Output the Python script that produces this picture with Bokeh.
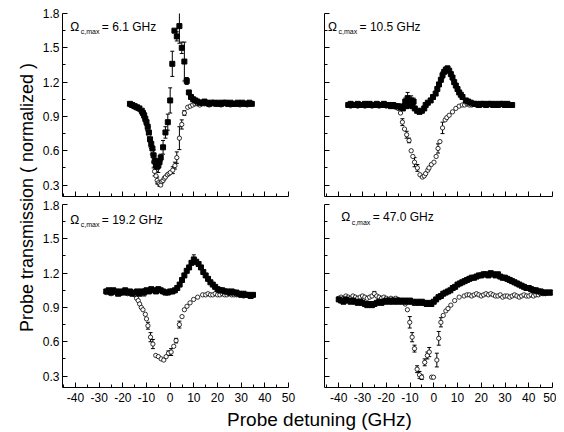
from bokeh.plotting import figure
from bokeh.models import Range1d, FixedTicker, Label, Whisker, TeeHead, ColumnDataSource
from bokeh.layouts import row, column
from bokeh.embed import file_html
from bokeh.resources import INLINE

# ---------------- data ----------------
PANEL_VALUES = ["6.1", "10.5", "19.2", "47.0"]
X_TICKS = [-40, -30, -20, -10, 0, 10, 20, 30, 40, 50]
X_MINOR = [-45, -35, -25, -15, -5, 5, 15, 25, 35, 45]
Y_TICKS = [0.3, 0.6, 0.9, 1.2, 1.5, 1.8]
Y_MINOR = [0.45, 0.75, 1.05, 1.35, 1.65]

# Panel A (6.1 GHz) filled
A_F_X = [-17, -16, -15, -14, -13, -12,
         -11.5, -11, -10.5, -10, -9.5, -9, -8.5, -8, -7.5, -7, -6.5, -6, -5.5, -5, -4.5, -4,
         -3, -2, -1, 0,
         0.9, 1.8, 2.8, 3.9, 4.9, 6.0, 7.0, 7.9, 8.8, 9.7, 10.6,
         11.5, 12.5, 13.5, 14.5, 15.5, 16.5, 17.5, 18.5, 19.5, 20.5, 21.5, 22.5,
         23.5, 24.5, 25.5, 26.5, 27.5, 28.5, 29.5, 30.5, 31.5, 32.5, 33.5, 34.5]
A_F_Y = [1.01, 1.00, 0.99, 0.98, 0.97, 0.95,
         0.93, 0.91, 0.88, 0.85, 0.81, 0.76, 0.70, 0.66, 0.62, 0.56, 0.51, 0.47, 0.46, 0.47, 0.50, 0.54,
         0.63, 0.76, 0.85, 1.04,
         1.36, 1.65, 1.60, 1.69, 1.50, 1.38, 1.21, 1.11, 1.07, 1.05, 1.04,
         1.03, 1.02, 1.02, 1.03, 1.02, 1.01, 1.02, 1.02, 1.01, 1.02, 1.01, 1.02,
         1.02, 1.01, 1.02, 1.01, 1.01, 1.02, 1.01, 1.02, 1.01, 1.01, 1.02, 1.01]
A_F_EX = [-9, -7, -6, -5, -4, -3, -2, -1, 0, 0.9, 2.8, 3.9, 4.9, 6.0, 7.0]
A_F_EV = [0.05, 0.05, 0.05, 0.06, 0.03, 0.06, 0.05, 0.07, 0.11, 0.11, 0.04, 0.15, 0.05, 0.17, 0.03]

# Panel A open
A_O_X = [-17, -16, -15, -14, -13, -12,
         -11, -10.5, -10, -9.5, -9, -8.5, -8, -7.5, -7,
         -6.6, -6, -5.5, -5, -4.5, -4, -3.5, -3, -2.5, -2,
         -1.2, -0.5, 0.1, 1.1, 2.0, 2.8, 3.9, 4.9, 6.0, 7.4, 8.5, 9.5,
         10.5, 11.5, 12.5, 13.5, 14.5, 15.5, 16.5, 17.5, 18.5, 19.5, 20.5, 21.5, 22.5,
         23.5, 24.5, 25.5, 26.5, 27.5, 28.5, 29.5, 30.5, 31.5, 32.5, 33.5, 34.5]
A_O_Y = [1.00, 0.99, 0.98, 0.97, 0.96, 0.93,
         0.89, 0.86, 0.83, 0.78, 0.74, 0.69, 0.63, 0.57, 0.50,
         0.42, 0.38, 0.34, 0.32, 0.31, 0.30, 0.33, 0.34, 0.36, 0.37,
         0.39, 0.40, 0.41, 0.43, 0.47, 0.54, 0.71, 0.83, 0.93, 0.98, 0.99, 1.00,
         1.01, 1.01, 1.00, 1.01, 1.01, 1.01, 1.00, 1.01, 1.01, 1.01, 1.01, 1.00, 1.01,
         1.01, 1.01, 1.00, 1.01, 1.01, 1.01, 1.00, 1.01, 1.01, 1.00, 1.01, 1.01]
A_O_EX = [-7, -6.6, -5.5, -4.5, 1.1, 2.0, 2.8, 3.9, 4.9, 6.0]
A_O_EV = [0.05, 0.04, 0.03, 0.02, 0.03, 0.03, 0.05, 0.10, 0.04, 0.02]

# Panel B (10.5 GHz) filled
B_F_X = [-36, -35, -34, -33, -32, -31, -30, -29, -28, -27, -26, -25, -24, -23, -22, -21, -20, -19, -18, -17, -16,
         -15, -14, -13, -12.5, -12, -11.5, -11, -10.5, -10, -9.5, -9, -8.5, -8,
         -7, -6, -5, -4, -3.4, -2.5, -1.3, -0.3,
         0.8, 1.5, 2.2, 3.0, 3.7, 4.4, 5.1, 5.8, 6.5, 7.2, 7.9, 8.6, 9.3, 10.0, 10.7, 11.4, 12.1,
         13.5, 14.5, 15.6,
         17, 18, 19, 20, 21, 22, 23, 24, 25, 26, 27, 28, 29, 30, 31, 32, 33]
B_F_Y = [1.00, 1.01, 1.00, 1.00, 1.01, 1.00, 1.00, 1.01, 1.00, 1.01, 1.00, 1.00, 1.01, 1.00, 1.00, 1.01, 1.00, 1.00, 0.99, 1.00, 0.99,
         0.99, 0.98, 0.97, 0.99, 1.03, 0.99, 1.06, 1.02, 1.00, 1.04, 0.99, 1.03, 0.97,
         0.95, 0.94, 0.95, 0.97, 1.00, 1.02, 1.04, 1.07,
         1.10, 1.14, 1.18, 1.22, 1.26, 1.29, 1.31, 1.32, 1.30, 1.27, 1.24, 1.20, 1.17, 1.14, 1.11, 1.09, 1.07,
         1.04, 1.03, 1.02,
         1.01, 1.01, 1.00, 1.01, 1.01, 1.00, 1.01, 1.01, 1.00, 1.01, 1.00, 1.01, 1.01, 1.00, 1.01, 1.00, 1.00]
B_F_EX = [-12, -11, -9.5, -8.5, 3.7, 5.8]
B_F_EV = [0.03, 0.05, 0.04, 0.03, 0.03, 0.02]

# Panel B open
B_O_X = [-36, -35, -34, -33, -32, -31, -30, -29, -28, -27, -26, -25, -24, -23, -22, -21, -20, -19, -18, -17, -16,
         -15, -14, -13.2, -12.3, -11.4, -10.4, -9.5, -8.8, -8.1, -6.9, -5.8, -4.8, -4.0, -3.4, -2.5, -2.0, -1.0,
         0.1, 1.0, 1.8, 2.6, 3.7, 4.8, 5.5, 6.5, 7.9, 9.3, 10.7, 12.0,
         13, 14, 15, 16, 17, 18, 19, 20, 21, 22, 23, 24, 25, 26, 27, 28, 29, 30, 31, 32, 33]
B_O_Y = [1.00, 0.99, 1.00, 1.00, 0.99, 1.00, 1.00, 0.99, 1.00, 1.00, 0.99, 1.00, 1.00, 0.99, 1.00, 1.00, 0.99, 1.00, 0.99, 0.99, 0.98,
         0.97, 0.93, 0.85, 0.79, 0.74, 0.69, 0.60, 0.55, 0.50, 0.45, 0.39, 0.37, 0.38, 0.40, 0.43, 0.45, 0.48,
         0.50, 0.55, 0.62, 0.68, 0.80, 0.87, 0.89, 0.91, 0.94, 0.97, 0.99, 1.00,
         1.00, 1.01, 1.00, 1.00, 1.01, 1.00, 1.00, 1.00, 1.01, 1.00, 1.00, 1.01, 1.00, 1.00, 1.00, 1.01, 1.00, 1.00, 1.01, 1.00, 1.00]
B_O_EX = [-13.2, -11.4, -10.4, -8.1, -6.9, 1.8, 3.7]
B_O_EV = [0.03, 0.03, 0.02, 0.04, 0.03, 0.04, 0.05]

# Panel C (19.2 GHz) filled
C_F_X = [-27, -26, -25, -24, -23, -22, -21, -20, -19, -18, -17, -16, -15, -14, -13, -12, -11, -10,
         -9, -8, -7, -6, -5, -4, -3, -2, -1, 0,
         1, 2, 3, 4, 5, 6, 7, 8, 9, 10, 11, 12, 13, 14, 15, 16, 17, 18, 19, 20,
         21, 22, 23, 24, 25, 26, 27, 28, 29, 30, 31, 32, 33, 34, 35]
C_F_Y = [1.04, 1.05, 1.03, 1.05, 1.04, 1.02, 1.04, 1.03, 1.05, 1.03, 1.04, 1.02, 1.03, 1.04, 1.02, 1.04, 1.03, 1.05,
         1.04, 1.06, 1.05, 1.04, 1.06, 1.05, 1.04, 1.03, 1.03, 1.04,
         1.04, 1.05, 1.07, 1.10, 1.14, 1.18, 1.22, 1.25, 1.29, 1.32, 1.30, 1.28, 1.25, 1.21, 1.18, 1.15, 1.12, 1.10, 1.08, 1.06,
         1.05, 1.05, 1.04, 1.04, 1.03, 1.04, 1.03, 1.03, 1.02, 1.01, 1.02, 1.01, 1.01, 1.00, 1.01]
C_F_EX = [-11, 10]
C_F_EV = [0.03, 0.04]

# Panel C open
C_O_X = [-27, -26, -25, -24, -23, -22, -21, -20, -19, -18, -17, -16, -15,
         -14.2, -13.5, -12.9, -12.2, -11.5, -10.5, -10, -9.4, -8.3, -7.3, -6.1, -5.0, -3.8, -2.7,
         -1.7, -0.7, 0.4, 1.5, 2.5, 3.9, 5.0, 6.0, 7.1, 8.4, 9.9, 11.6, 13.7,
         15, 16, 17, 18, 19, 20, 21, 22, 23, 24, 25, 26, 27, 28, 29, 30, 31, 32, 33, 34, 35]
C_O_Y = [1.03, 1.04, 1.02, 1.03, 1.04, 1.03, 1.02, 1.03, 1.04, 1.02, 1.03, 1.02, 1.01,
         0.98, 0.96, 0.93, 0.90, 0.88, 0.84, 0.80, 0.74, 0.64, 0.58, 0.48, 0.47, 0.45, 0.44,
         0.47, 0.50, 0.51, 0.56, 0.61, 0.75, 0.82, 0.88, 0.91, 0.94, 0.97, 0.99, 1.01,
         1.01, 1.02, 1.01, 1.01, 1.02, 1.01, 1.01, 1.02, 1.01, 1.01, 1.02, 1.01, 1.01, 1.01, 1.02, 1.01, 1.00, 1.01, 1.01, 1.00, 1.01]
C_O_EX = [-9.4, -8.3, -7.3, -0.7, 0.4, 2.5, 3.9]
C_O_EV = [0.03, 0.04, 0.04, 0.02, 0.03, 0.02, 0.03]

# Panel D (47.0 GHz) filled
D_F_X = [-40, -39, -38, -37, -36, -35, -34, -33, -32, -31,
         -30, -29, -28, -27, -26, -25, -24, -23, -22, -21,
         -20, -19, -18, -17, -16, -15, -14, -13, -12, -11,
         -10, -9, -8, -7, -6, -5, -4, -3, -2, -1,
         0, 1, 2, 3, 4, 5, 6, 7, 8, 9,
         10, 11, 12, 13, 14, 15, 16, 17, 18, 19,
         20, 21, 22, 23, 24, 25, 26, 27, 28, 29,
         30, 31, 32, 33, 34, 35, 36, 37, 38, 39,
         40, 41, 42, 43, 44, 45, 46, 47, 48, 49, 50]
D_F_Y = [0.97, 0.96, 0.95, 0.97, 0.96, 0.95, 0.96, 0.95, 0.94, 0.95,
         0.94, 0.93, 0.92, 0.93, 0.92, 0.93, 0.94, 0.95, 0.94, 0.95,
         0.96, 0.95, 0.96, 0.95, 0.96, 0.95, 0.96, 0.95, 0.96, 0.95,
         0.96, 0.95, 0.94, 0.95, 0.94, 0.95, 0.94, 0.93, 0.94, 0.93,
         0.95, 0.97, 0.99, 1.00, 1.02, 1.03, 1.04, 1.05, 1.07, 1.08,
         1.10, 1.11, 1.12, 1.13, 1.14, 1.15, 1.16, 1.16, 1.17, 1.18,
         1.18, 1.19, 1.19, 1.18, 1.20, 1.19, 1.18, 1.19, 1.17, 1.16,
         1.16, 1.15, 1.14, 1.13, 1.12, 1.11, 1.10, 1.09, 1.08, 1.07,
         1.07, 1.06, 1.05, 1.05, 1.04, 1.04, 1.03, 1.03, 1.03, 1.03, 1.03]
D_F_EX = []
D_F_EV = []

# Panel D open
D_O_X = [-40, -39, -38, -37, -36, -35, -34, -33, -32, -31, -30, -29, -28, -27, -26, -25, -24, -23, -22, -21,
         -20, -19, -18, -17, -16, -15, -14, -13, -12,
         -11.1, -10.1, -9.1, -8.1, -7.0, -6.0, -5.1, -3.8, -2.7, -1.9, -0.9, -0.1,
         1.3, 2.1, 3.0, 4.0, 5.1, 6.0, 7.2, 8.8, 10.7, 12.8,
         14, 15, 16, 17, 18, 19, 20, 21, 22, 23, 24, 25, 26, 27, 28, 29, 30, 31, 32, 33,
         34, 35, 36, 37, 38, 39, 40, 41, 42, 43, 44, 45, 46, 47, 48, 49, 50]
D_O_Y = [0.98, 0.99, 0.98, 1.00, 0.99, 0.98, 1.00, 0.99, 0.98, 0.99, 1.00, 0.99, 0.98, 0.99, 1.00, 1.02, 1.00, 0.99, 0.98, 0.99,
         0.98, 0.97, 0.98, 0.97, 0.98, 0.97, 0.96, 0.96, 0.93,
         0.88, 0.77, 0.64, 0.54, 0.36, 0.31, 0.29, 0.42, 0.48, 0.51, 0.29, 0.29,
         0.44, 0.63, 0.77, 0.83, 0.87, 0.89, 0.92, 0.96, 0.99, 1.00,
         1.01, 1.01, 1.00, 1.01, 1.02, 1.01, 1.00, 1.01, 1.02, 1.01, 1.02, 1.01, 1.00, 1.00, 1.01, 0.99, 1.00, 1.00, 0.99, 1.00,
         1.01, 1.00, 0.99, 1.00, 1.01, 1.00, 1.00, 1.01, 1.00, 1.01, 1.01, 1.02, 1.02, 1.02, 1.03, 1.03, 1.03]
D_O_EX = [-25, -10.1, -9.1, -8.1, -7.0, -6.0, -5.1, -3.8, -2.7, -1.9, 1.3, 2.1, 3.0]
D_O_EV = [0.02, 0.05, 0.04, 0.03, 0.03, 0.03, 0.02, 0.03, 0.03, 0.04, 0.06, 0.06, 0.04]

# ---------------- styling ----------------
FONT = "Liberation Sans"
LEFT_XR = (-45.5, 50)
RIGHT_XR = (-46, 50)
YR = (0.2, 1.8)


def make_panel(xr, width, height, mbl, mbr, mbt, mbb, show_x, show_y):
    p = figure(width=width, height=height, x_range=Range1d(*xr), y_range=Range1d(*YR),
               output_backend="svg", toolbar_location=None,
               min_border_left=mbl, min_border_right=mbr, min_border_top=mbt, min_border_bottom=mbb)
    p.grid.visible = False
    p.outline_line_color = None
    p.xaxis.ticker = FixedTicker(ticks=X_TICKS, minor_ticks=X_MINOR)
    p.yaxis.ticker = FixedTicker(ticks=Y_TICKS, minor_ticks=Y_MINOR)
    for ax in (p.xaxis[0], p.yaxis[0]):
        ax.axis_line_color = "black"
        ax.axis_line_width = 1
        ax.major_tick_line_color = "black"
        ax.minor_tick_line_color = "black"
        ax.major_tick_in = 5
        ax.major_tick_out = 0
        ax.minor_tick_in = 3
        ax.minor_tick_out = 0
        ax.major_label_text_font = FONT
        ax.major_label_text_color = "black"
        ax.major_label_text_font_size = "12px"
    if show_x:
        p.xaxis.major_label_overrides = {t: str(t) for t in X_TICKS}
        p.xaxis.major_label_standoff = 5
    else:
        p.xaxis.major_label_overrides = {t: "" for t in X_TICKS}
        p.xaxis.major_label_text_font_size = "0px"
        p.xaxis.major_label_standoff = 0
    if show_y:
        p.yaxis.major_label_standoff = 3
    else:
        p.yaxis.major_label_overrides = {t: "" for t in Y_TICKS}
        p.yaxis.major_label_text_font_size = "0px"
        p.yaxis.major_label_standoff = 0
    return p


def add_series(p, xs, ys, ex, ev, filled):
    if ex:
        base, up, lo = [], [], []
        for xv, e in zip(ex, ev):
            yv = ys[xs.index(xv)]
            base.append(xv)
            up.append(yv + e)
            lo.append(yv - e)
        src = ColumnDataSource(data=dict(base=base, upper=up, lower=lo))
        w = Whisker(source=src, base="base", upper="upper", lower="lower",
                    line_color="black", line_width=1,
                    upper_head=TeeHead(size=4, line_color="black", line_width=1),
                    lower_head=TeeHead(size=4, line_color="black", line_width=1))
        p.add_layout(w)
    if filled:
        p.scatter(xs, ys, marker="square", size=5, fill_color="black", line_color="black")
    else:
        p.scatter(xs, ys, marker="circle", size=4.3, fill_color="white", line_color="black", line_width=0.8)


def add_title(p, x, y, val):
    p.add_layout(Label(x=x, y=y, text="\u03a9", text_font=FONT, text_font_size="12px",
                       text_color="black", text_baseline="middle"))
    p.add_layout(Label(x=x, y=y, x_offset=10.5, y_offset=-5, text="c,max", text_font=FONT,
                       text_font_size="7px", text_color="black", text_baseline="middle"))
    p.add_layout(Label(x=x, y=y, x_offset=31.5, text="= " + val + " GHz", text_font=FONT,
                       text_font_size="12px", text_color="black", text_baseline="middle"))


# frames at x 62-288 / 324-552, y 13-196 / 204-387
tl = make_panel(LEFT_XR, 268, 200, 24, 18, 13, 4, False, True)
tr = make_panel(RIGHT_XR, 250, 200, 18, 4, 13, 4, False, False)
bl = make_panel(LEFT_XR, 268, 207, 24, 18, 4, 20, True, True)
br = make_panel(RIGHT_XR, 250, 207, 18, 4, 4, 20, True, False)

add_series(tl, A_O_X, A_O_Y, A_O_EX, A_O_EV, False)
add_series(tl, A_F_X, A_F_Y, A_F_EX, A_F_EV, True)
add_series(tr, B_O_X, B_O_Y, B_O_EX, B_O_EV, False)
add_series(tr, B_F_X, B_F_Y, B_F_EX, B_F_EV, True)
add_series(bl, C_O_X, C_O_Y, C_O_EX, C_O_EV, False)
add_series(bl, C_F_X, C_F_Y, C_F_EX, C_F_EV, True)
add_series(br, D_O_X, D_O_Y, D_O_EX, D_O_EV, False)
add_series(br, D_F_X, D_F_Y, D_F_EX, D_F_EV, True)

add_title(tl, -42.2, 1.686, PANEL_VALUES[0])
add_title(tr, -44.5, 1.686, PANEL_VALUES[1])
add_title(bl, -42.2, 1.667, PANEL_VALUES[2])
add_title(br, -39.0, 1.689, PANEL_VALUES[3])


def text_fig(w, h):
    f = figure(width=w, height=h, x_range=Range1d(0, 1), y_range=Range1d(0, 1),
               x_axis_type=None, y_axis_type=None, min_border=0,
               output_backend="svg", toolbar_location=None)
    f.outline_line_color = None
    f.grid.visible = False
    return f


ylab = text_fig(38, 407)
ylab.add_layout(Label(x=26, y=210, x_units="screen", y_units="screen", angle=90, angle_units="deg",
                      text="Probe transmission ( normalized )", text_font=FONT, text_font_size="18px",
                      text_color="black", text_align="center", text_baseline="middle"))
xlab = text_fig(556, 25)
xlab.add_layout(Label(x=319, y=13, x_units="screen", y_units="screen",
                      text="Probe detuning (GHz)", text_font=FONT, text_font_size="19px",
                      text_color="black", text_align="center", text_baseline="middle"))

layout = column(row(ylab, column(row(tl, tr), row(bl, br))), xlab)

open("out.html", "w").write(file_html(layout, INLINE))
